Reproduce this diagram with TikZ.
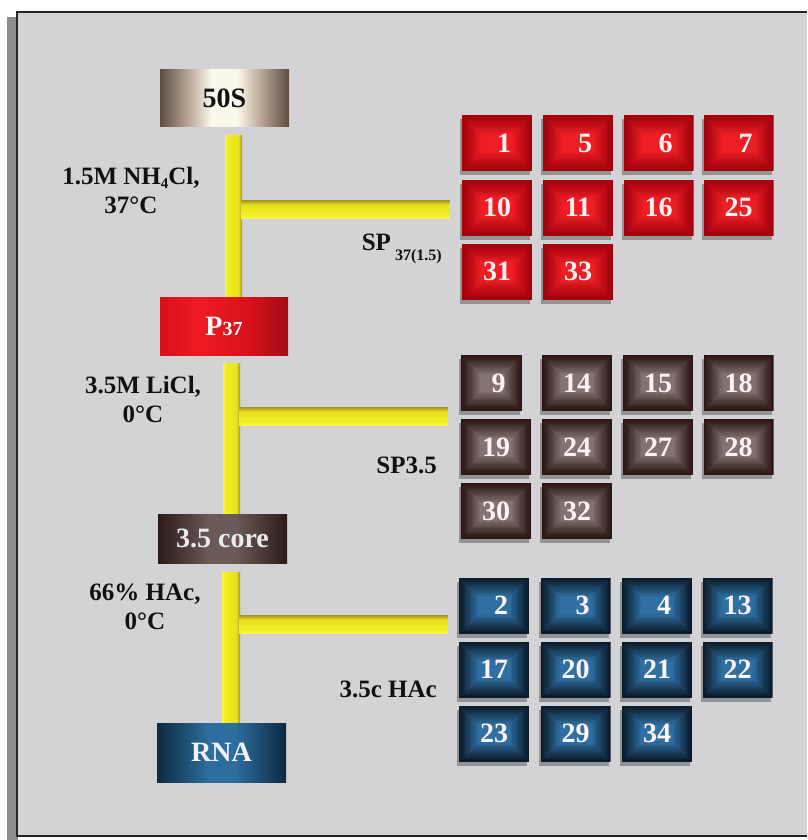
\documentclass[tikz,border=0pt]{standalone}
\usepackage{fontspec}
\setmainfont{Liberation Serif}
\usetikzlibrary{shadows,calc}

\definecolor{panel}{HTML}{D3D3D5}
\definecolor{leftshade}{HTML}{8E8C8E}
\definecolor{ink}{HTML}{141010}
\definecolor{redE}{HTML}{A0000C}
\definecolor{redC}{HTML}{EE1E24}
\definecolor{brE}{HTML}{2A1614}
\definecolor{brC}{HTML}{857371}
\definecolor{blE}{HTML}{0A1C2A}
\definecolor{blC}{HTML}{2E70A4}
% 50S
\definecolor{sD}{HTML}{5E4C40}
\definecolor{sM}{HTML}{B8A898}
\definecolor{sL}{HTML}{FCF8EC}
% P37
\definecolor{pA}{HTML}{D81018}
\definecolor{pB}{HTML}{EE1A22}
\definecolor{pC}{HTML}{A40C14}
% core
\definecolor{cD}{HTML}{2A1A18}
\definecolor{cL}{HTML}{6A5A58}
% RNA
\definecolor{rD}{HTML}{0C2A40}
\definecolor{rL}{HTML}{2E6E9E}
% yellow bars
\definecolor{yL}{HTML}{FAF650}
\definecolor{yM}{HTML}{F2EE22}
\definecolor{yN}{HTML}{E8E01C}
\definecolor{yD}{HTML}{A49420}

\pgfdeclarehorizontalshading{fiftyS}{100bp}{color(0bp)=(sD); color(25bp)=(sD); color(36bp)=(sM); color(45bp)=(sL); color(55bp)=(sL); color(64bp)=(sM); color(75bp)=(sD); color(100bp)=(sD)}
\pgfdeclarehorizontalshading{pS}{100bp}{color(0bp)=(pA); color(25bp)=(pA); color(40bp)=(pB); color(60bp)=(pA); color(75bp)=(pC); color(100bp)=(pC)}
\pgfdeclarehorizontalshading{coreS}{100bp}{color(0bp)=(cD); color(25bp)=(cD); color(45bp)=(cL); color(55bp)=(cL); color(75bp)=(cD); color(100bp)=(cD)}
\pgfdeclarehorizontalshading{rnaS}{100bp}{color(0bp)=(rD); color(25bp)=(rD); color(45bp)=(rL); color(55bp)=(rL); color(75bp)=(rD); color(100bp)=(rD)}
\pgfdeclarehorizontalshading{vbarS}{100bp}{color(0bp)=(yL); color(25bp)=(yL); color(32bp)=(yM); color(65bp)=(yN); color(75bp)=(yD); color(100bp)=(yD)}
\pgfdeclareverticalshading{hbarS}{100bp}{color(0bp)=(yL); color(25bp)=(yL); color(35bp)=(yM); color(62bp)=(yN); color(75bp)=(yD); color(100bp)=(yD)}

\begin{document}
\begin{tikzpicture}[x=1pt,y=-1pt,
  glow/.style 2 args={path picture={
    \foreach \k in {0,...,16}{
      \pgfmathtruncatemacro{\p}{100*(\k/16)^1.1}
      \fill[#2!\p!#1] ([xshift=\k*1.2pt, yshift=-\k*1.2pt]path picture bounding box.north west) rectangle ([xshift=-\k*1.2pt, yshift=\k*1.2pt]path picture bounding box.south east);
    }}},
  gbox/.style={minimum width=70pt, minimum height=56pt, inner sep=0pt,
    font=\fontsize{28}{28}\selectfont\bfseries, text=white!95!red,
    drop shadow={shadow xshift=-2pt, shadow yshift=-4pt, fill=black, opacity=0.3}},
  rbox/.style={gbox, glow={redE}{redC}},
  kbox/.style={gbox, glow={brE}{brC}},
  bbox/.style={gbox, glow={blE}{blC}},
  bigbox/.style={minimum width=129pt, inner sep=0pt, shade,
    font=\fontsize{28}{28}\selectfont\bfseries},
  lab/.style={font=\fontsize{25}{29}\selectfont\bfseries, text=ink, inner sep=0pt},
  vbar/.style={shade, shading=vbarS},
  hbar/.style={shade, shading=hbarS}
]
\useasboundingbox (0,0) rectangle (807,840);
\fill[white] (0,0) rectangle (807,840);
\fill[leftshade] (7,17) rectangle (18,840);
\fill[panel] (17,12) rectangle (807,836);
\draw[line width=2.2pt, black!85] (807,12) -- (17,12) -- (17,836) -- (807,836);

% column boxes
\node[bigbox, shading=fiftyS, minimum height=57pt, text=ink] (s50) at (224.5,98.5) {50S};
\node[bigbox, shading=pS, minimum width=128pt, minimum height=58pt, text=white] (p37) at (224,326) {P\fontsize{20}{20}\selectfont 37};
\node[bigbox, shading=coreS, minimum height=49pt, text=white!92!black] (core) at (222.5,538.5) {3.5 core};
\node[bigbox, shading=rnaS, minimum height=59pt, text=white!95!blue] (rna) at (221.5,752.5) {RNA};

% red grid
\node[rbox] (n1) at (497,143) {\phantom{0}1};
\node[rbox] (n5) at (578,143) {\phantom{0}5};
\node[rbox] (n6) at (658.5,143) {\phantom{0}6};
\node[rbox] (n7) at (738.5,143) {\phantom{0}7};
\node[rbox] (n10) at (497,207.5) {10};
\node[rbox] (n11) at (578,207.5) {11};
\node[rbox] (n16) at (658.5,207.5) {16};
\node[rbox] (n25) at (738.5,207.5) {25};
\node[rbox] (n31) at (497,271.5) {31};
\node[rbox] (n33) at (578,271.5) {33};

% brown grid
\node[kbox, minimum width=61pt] (n9) at (491.5,383) {\phantom{0}9};
\node[kbox] (n14) at (577,383) {14};
\node[kbox] (n15) at (658,383) {15};
\node[kbox] (n18) at (738.5,383) {18};
\node[kbox] (n19) at (496,447) {19};
\node[kbox] (n24) at (577,447) {24};
\node[kbox] (n27) at (658,447) {27};
\node[kbox] (n28) at (738.5,447) {28};
\node[kbox] (n30) at (496,511) {30};
\node[kbox] (n32) at (577,511) {32};

% blue grid
\node[bbox] (n2) at (494,605.5) {\phantom{0}2};
\node[bbox] (n3) at (575.5,605.5) {\phantom{0}3};
\node[bbox] (n4) at (657,605.5) {\phantom{0}4};
\node[bbox] (n13) at (737.5,605.5) {13};
\node[bbox] (n17) at (494,669.5) {17};
\node[bbox] (n20) at (575.5,669.5) {20};
\node[bbox] (n21) at (657,669.5) {21};
\node[bbox] (n22) at (737.5,669.5) {22};
\node[bbox] (n23) at (494,733.5) {23};
\node[bbox] (n29) at (575.5,733.5) {29};
\node[bbox] (n34) at (657,733.5) {34};

% vertical yellow bars
\shade[vbar] ($(s50.south)+(0.5,8)$) rectangle ($(p37.north)+(18,0)$);
\shade[vbar] ($(p37.south)+(-1,8)$) rectangle ($(core.north)+(17.5,0)$);
\shade[vbar] ($(core.south)+(-0.5,9)$) rectangle ($(rna.north)+(18.5,0)$);

% horizontal branches
\coordinate (j1) at (241,209);
\coordinate (e1) at ($(n10.west)+(-12,1.5)$);
\coordinate (j2) at (239,416);
\coordinate (e2) at ($(n19.west)+(-13,-31)$);
\coordinate (j3) at (239,624);
\coordinate (e3) at ($(n17.west)+(-11,-45.5)$);
\shade[hbar] ($(j1)+(0,-9)$) rectangle ($(e1)+(0,9)$);
\shade[hbar] ($(j2)+(0,-9)$) rectangle ($(e2)+(0,9)$);
\shade[hbar] ($(j3)+(0,-9)$) rectangle ($(e3)+(0,9)$);

% condition labels
\node[lab, align=center] (c1) at (131,190) {1.5M NH\raisebox{-4pt}{\fontsize{15}{15}\selectfont 4}Cl,\\37°C};
\node[lab, align=center] (c2) at (143,399) {3.5M LiCl,\\0°C};
\node[lab, align=center] (c3) at (145,607) {66\% HAc,\\0°C};

% fraction labels
\node[lab, anchor=base east] (sp1) at (442,250) {SP\,\raisebox{-10pt}{\fontsize{16}{16}\selectfont 37(1.5)}};
\node[lab, anchor=base east] (sp2) at (437,473) {SP3.5};
\node[lab, anchor=base east] (sp3) at (437,697) {3.5c HAc};
\end{tikzpicture}
\end{document}
